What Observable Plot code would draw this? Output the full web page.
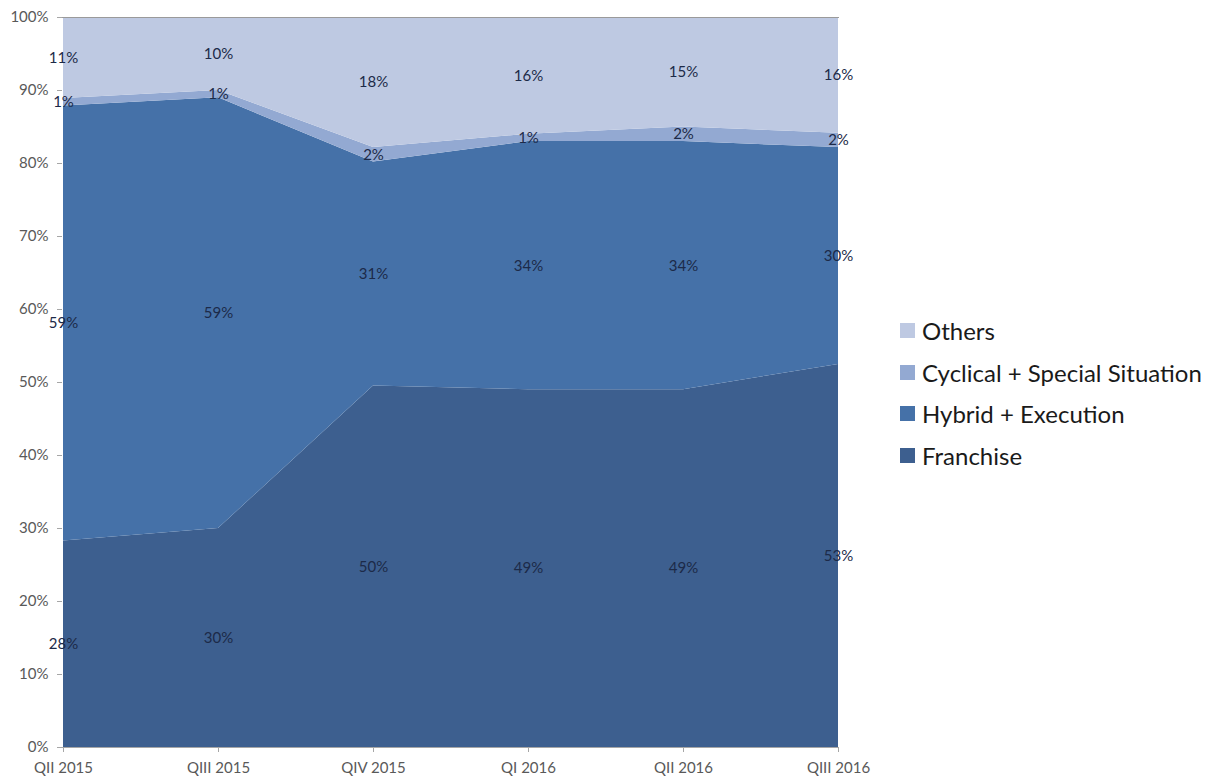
<!DOCTYPE html>
<html>
<head>
<meta charset="utf-8">
<script src="https://cdn.jsdelivr.net/npm/d3@7"></script>
<script src="https://cdn.jsdelivr.net/npm/@observablehq/plot@0.6"></script>
<style>
  html, body { margin: 0; padding: 0; background: #fff; }
  #wrap { position: relative; width: 1212px; height: 778px; }
  #legend { position: absolute; left: 900px; top: 310px; font-family: Lato, "Open Sans", sans-serif; font-size: 24px; color: #1a1a1a; }
  #legend .row { display: flex; align-items: center; height: 41.5px; }
  #legend .sw { width: 15px; height: 15px; margin-right: 7px; flex: none; }
</style>
</head>
<body>
<div id="wrap">
  <div id="chart"></div>
  <div id="legend"></div>
</div>
<script>
// Quarters on the x axis
const quarters = ["QII 2015", "QIII 2015", "QIV 2015", "QI 2016", "QII 2016", "QIII 2016"];

// Share of each strategy bucket per quarter (percent)
const franchise = [28, 30, 50, 49, 49, 53];
const hybrid    = [59, 59, 31, 34, 34, 30];
const cyclical  = [1, 1, 2, 1, 2, 2];
const others    = [11, 10, 18, 16, 15, 16];

// Series, bottom to top of the stack
const seriesNames = ["Franchise", "Hybrid + Execution", "Cyclical + Special Situation", "Others"];
const seriesValues = [franchise, hybrid, cyclical, others];
const seriesColors = ["#3d5f8f", "#4571a8", "#93a9d2", "#bec9e2"];

// y-axis ticks
const yTicks = [0, 0.1, 0.2, 0.3, 0.4, 0.5, 0.6, 0.7, 0.8, 0.9, 1];

// Long table for the stack transform
const rows = [];
seriesNames.forEach((s, i) => {
  quarters.forEach((q, j) => rows.push({quarter: q, series: s, value: seriesValues[i][j]}));
});

const stackOpts = {x: "quarter", y: "value", z: "series", offset: "normalize", order: seriesNames};

const chart = Plot.plot({
  width: 1212,
  height: 778,
  marginLeft: 62,
  marginRight: 373,
  marginTop: 17,
  marginBottom: 31,
  style: {fontFamily: "Lato, 'Open Sans', sans-serif", fontSize: "15px", color: "#595959", background: "#fff"},
  x: {type: "point", domain: quarters, padding: 0},
  y: {domain: [0, 1]},
  color: {domain: seriesNames, range: seriesColors},
  marks: [
    Plot.areaY(rows, Plot.stackY({...stackOpts, fill: "series", curve: "linear"})),
    Plot.ruleY([1], {stroke: "#9a9a9a", strokeWidth: 1.2}),
    Plot.ruleY([0], {stroke: "#a6a6a6", strokeWidth: 1}),
    Plot.axisY({
      ticks: yTicks, tickSize: 5, tickPadding: 9,
      tickFormat: d => Math.round(d * 100) + "%",
      stroke: "#a6a6a6", label: null
    }),
    Plot.axisX({tickSize: 5, tickPadding: 10, stroke: "#a6a6a6", label: null}),
    Plot.text(rows, Plot.stackY({
      ...stackOpts,
      text: d => d.value + "%",
      fill: "#1c2a48",
      fontSize: 15
    }))
  ]
});
document.getElementById("chart").appendChild(chart);

// Legend, top entry first
const legend = d3.select("#legend");
seriesNames.slice().reverse().forEach(name => {
  const row = legend.append("div").attr("class", "row");
  row.append("div").attr("class", "sw").style("background", seriesColors[seriesNames.indexOf(name)]);
  row.append("span").text(name);
});
</script>
</body>
</html>
